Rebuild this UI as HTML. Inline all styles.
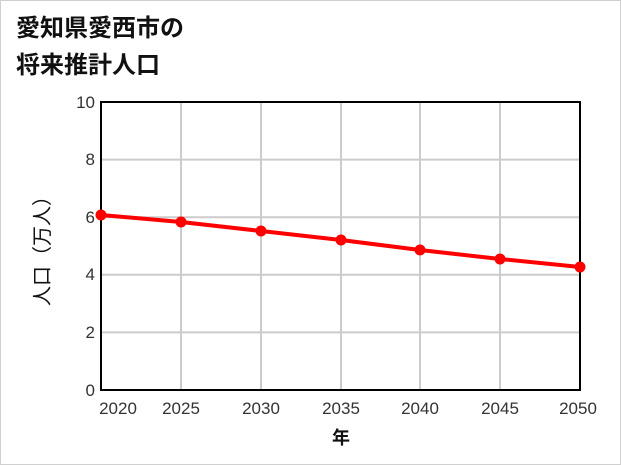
<!DOCTYPE html>
<html><head><meta charset="utf-8"><style>
html,body{margin:0;padding:0;background:#fff}
svg{display:block}
text{font-family:"Liberation Sans","Noto Sans CJK JP",sans-serif}
</style></head><body>
<svg width="621" height="465" viewBox="0 0 621 465">
<rect x="0.5" y="0.5" width="620" height="464" fill="#fff" stroke="#d0d0d0"/>
<text x="16" y="36" font-size="24" font-weight="bold" fill="#111">愛知県愛西市の</text>
<text x="16" y="73" font-size="24" font-weight="bold" fill="#111">将来推計人口</text>
<g stroke="#ccc" stroke-width="2">
<line x1="181" y1="102" x2="181" y2="390"/><line x1="261" y1="102" x2="261" y2="390"/>
<line x1="341" y1="102" x2="341" y2="390"/><line x1="420" y1="102" x2="420" y2="390"/>
<line x1="500" y1="102" x2="500" y2="390"/>
<line x1="101" y1="159.6" x2="580" y2="159.6"/><line x1="101" y1="217.2" x2="580" y2="217.2"/>
<line x1="101" y1="274.8" x2="580" y2="274.8"/><line x1="101" y1="332.4" x2="580" y2="332.4"/>
</g>
<rect x="101" y="102" width="479" height="288" fill="none" stroke="#000" stroke-width="2"/>
<g font-size="17" fill="#333" text-anchor="end">
<text x="95" y="108">10</text><text x="95" y="165">8</text><text x="95" y="223">6</text>
<text x="95" y="280">4</text><text x="95" y="338">2</text><text x="95" y="396">0</text>
</g>
<g font-size="17" fill="#333" text-anchor="middle">
<text x="118" y="414">2020</text><text x="181" y="414">2025</text><text x="261" y="414">2030</text>
<text x="341" y="414">2035</text><text x="420" y="414">2040</text><text x="500" y="414">2045</text>
<text x="578" y="414">2050</text>
</g>
<text x="341" y="444" font-size="18" font-weight="bold" text-anchor="middle" fill="#111">年</text>
<text transform="translate(49,246) rotate(-90)" font-size="20" text-anchor="middle" fill="#111">人口（万人）</text>
<polyline fill="none" stroke="#f00" stroke-width="4" points="101,215 181,222 261,231 341,240 420,250 500,259 580,267"/>
<g fill="#f00">
<circle cx="101" cy="215" r="5.5"/><circle cx="181" cy="222" r="5.5"/><circle cx="261" cy="231" r="5.5"/>
<circle cx="341" cy="240" r="5.5"/><circle cx="420" cy="250" r="5.5"/><circle cx="500" cy="259" r="5.5"/>
<circle cx="580" cy="267" r="5.5"/>
</g>
</svg>
</body></html>
